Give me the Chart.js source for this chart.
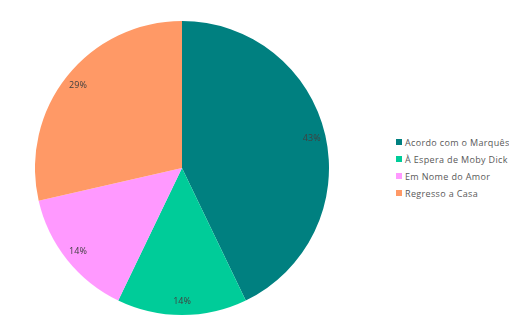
<!DOCTYPE html>
<html>
<head>
<meta charset="utf-8">
<script src="https://cdn.jsdelivr.net/npm/chart.js@4"></script>
<style>
    html, body { margin: 0; padding: 0; background: #fff; }
    #wrap { position: relative; width: 509px; height: 330px; overflow: hidden; }
    #chart-box { position: absolute; left: 35px; top: 21px; width: 294px; height: 294px; }
    #legend { position: absolute; left: 396px; top: 135px; font-family: "Open Sans", sans-serif; font-size: 9px; letter-spacing: 0.35px; color: #595959; }
    .legend-item { height: 17px; line-height: 16px; white-space: nowrap; }
    .legend-swatch { display: inline-block; width: 6px; height: 6px; margin-right: 3px; vertical-align: 1px; }
</style>
</head>
<body>
<div id="wrap">
    <div id="chart-box"><canvas id="pie"></canvas></div>
    <div id="legend"></div>
</div>
<script>
// Chart data
const categories = ['Acordo com o Marquês', 'À Espera de Moby Dick', 'Em Nome do Amor', 'Regresso a Casa'];
const counts = [3, 1, 1, 2];
const sliceColors = ['#008080', '#00CC99', '#FF99FF', '#FF9966'];

// Draw percentage labels inside each slice
const pctLabels = {
    id: 'pctLabels',
    afterDatasetsDraw(chart) {
        const ctx = chart.ctx;
        const meta = chart.getDatasetMeta(0);
        const total = counts.reduce((a, b) => a + b, 0);
        ctx.save();
        ctx.font = '9px "Open Sans", sans-serif';
        ctx.fillStyle = '#404040';
        ctx.textAlign = 'center';
        ctx.textBaseline = 'middle';
        meta.data.forEach((arc, i) => {
            const mid = (arc.startAngle + arc.endAngle) / 2;
            const r = arc.outerRadius * 0.905;
            const x = arc.x + Math.cos(mid) * r;
            const y = arc.y + Math.sin(mid) * r;
            ctx.fillText(Math.round(counts[i] / total * 100) + '%', x, y);
        });
        ctx.restore();
    }
};

new Chart(document.getElementById('pie'), {
    type: 'pie',
    data: {
        labels: categories,
        datasets: [{ data: counts, backgroundColor: sliceColors, borderWidth: 0 }]
    },
    options: {
        responsive: true,
        maintainAspectRatio: false,
        animation: false,
        plugins: { legend: { display: false }, tooltip: { enabled: false } }
    },
    plugins: [pctLabels]
});

// HTML legend
const legendEl = document.getElementById('legend');
categories.forEach((name, i) => {
    const row = document.createElement('div');
    row.className = 'legend-item';
    row.innerHTML = `<span class="legend-swatch" style="background:${sliceColors[i]}"></span>${name}`;
    legendEl.appendChild(row);
});
</script>
</body>
</html>
